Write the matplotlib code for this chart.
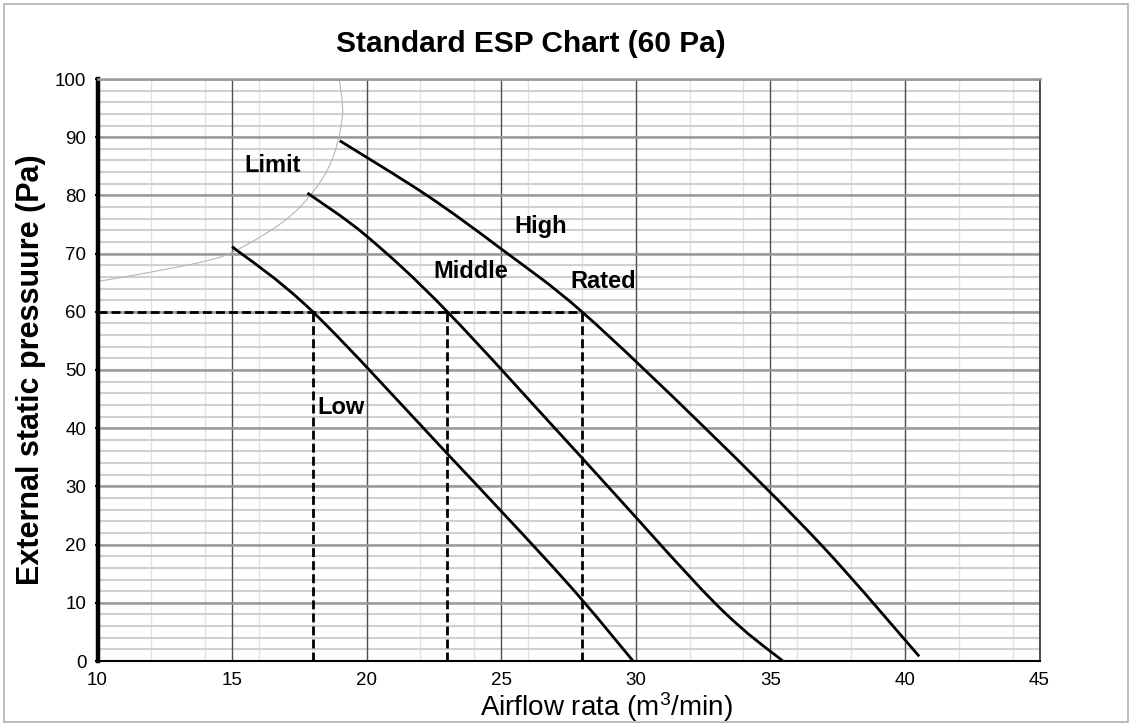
import matplotlib
matplotlib.use("Agg")
import matplotlib.pyplot as plt
from matplotlib.patches import Rectangle, PathPatch
from matplotlib.path import Path
import numpy as np

plt.rcParams['font.family'] = ['Liberation Sans', 'DejaVu Sans']
plt.rcParams['mathtext.fontset'] = 'custom'
plt.rcParams['mathtext.rm'] = 'Liberation Sans'
plt.rcParams['mathtext.default'] = 'regular'

# fan curves (airflow m3/min, pressure Pa)
low_x = [15.0, 18.0, 23.0, 27.34, 29.9]
low_y = [71.2, 60.0, 35.6, 14.0, 0.0]

mid_x = [17.8, 20.0, 23.0, 28.02, 32.93, 35.46]
mid_y = [80.4, 73.0, 60.0, 34.8, 10.0, 0.0]

high_x = [19.0, 22.24, 25.0, 28.0, 32.58, 36.88, 40.53]
high_y = [89.4, 80.0, 70.8, 60.0, 40.0, 20.0, 0.8]

limit_x = [10.0, 11.96, 13.81, 15.04, 16.88, 17.99, 18.73, 19.1, 18.98]
limit_y = [65.2, 66.8, 68.5, 70.3, 75.4, 80.5, 86.3, 93.7, 100.0]

esp = 60
rated_x = [18, 23, 28]

labels = ["Limit", "High", "Middle", "Rated", "Low"]
label_x = [15.44, 25.5, 22.49, 27.57, 18.17]
label_y = [85.2, 74.7, 66.9, 65.2, 43.5]

x_ticks = np.arange(10, 46, 5)
y_ticks = np.arange(0, 101, 10)


def smooth_path(xs, ys):
    # smoothed line through the points, drawn as cubic bezier segments (like a spreadsheet "smoothed line")
    pts = np.column_stack([xs, ys])
    n = len(pts)
    verts = [pts[0]]
    codes = [Path.MOVETO]
    for i in range(n - 1):
        p0 = pts[max(i - 1, 0)]
        p1 = pts[i]
        p2 = pts[i + 1]
        p3 = pts[min(i + 2, n - 1)]
        verts += [p1 + (p2 - p0) / 6, p2 - (p3 - p1) / 6, p2]
        codes += [Path.CURVE4] * 3
    return Path(verts, codes)


fig = plt.figure(figsize=(11.3, 7.25), dpi=100)
ax = fig.add_axes([97.5 / 1130, 64 / 725, 942 / 1130, 582 / 725])

# grid
for x in range(10, 46, 2):
    ax.axvline(x, color='#e2e2e2', lw=1.0, zorder=0)
for x in x_ticks:
    ax.axvline(x, color='#505050', lw=1.0, zorder=1)
for y in range(0, 101, 2):
    ax.axhline(y, color='#d0d0d0', lw=1.5, zorder=0)
for y in y_ticks:
    ax.axhline(y, color='#9a9a9a', lw=1.8, zorder=1)

ax.add_patch(PathPatch(smooth_path(limit_x, limit_y), fill=False, edgecolor='#b5b5b5', lw=0.8, zorder=2))
for cx, cy in [(low_x, low_y), (mid_x, mid_y), (high_x, high_y)]:
    ax.add_patch(PathPatch(smooth_path(cx, cy), fill=False, edgecolor='black', lw=2.0,
                           capstyle='butt', zorder=3))

ax.plot([10, max(rated_x)], [esp, esp], color='black', lw=2.0, dashes=(3.2, 1.5), zorder=4)
for rx in rated_x:
    ax.plot([rx, rx], [0, esp], color='black', lw=2.0, dashes=(3.2, 1.5), zorder=4)

for t, lx, ly in zip(labels, label_x, label_y):
    ax.text(lx, ly, t, fontsize=17, fontweight='bold', ha='left', va='center', zorder=5)

ax.set_xlim(10, 45)
ax.set_ylim(0, 100)
ax.set_xticks(x_ticks)
ax.set_yticks(y_ticks)
ax.tick_params(axis='x', length=0, pad=8, labelsize=13.5)
ax.tick_params(axis='y', length=2, width=1.5, pad=6, labelsize=13.5)

ax.spines['left'].set_linewidth(3.2)
ax.spines['left'].set_color('black')
ax.spines['bottom'].set_linewidth(1.5)
ax.spines['bottom'].set_color('black')
ax.spines['top'].set_color('#9a9a9a')
ax.spines['top'].set_linewidth(1.8)
ax.spines['right'].set_color('#303030')
ax.spines['right'].set_linewidth(1.2)

fig.text(531 / 1130, 1 - 44 / 725, "Standard ESP Chart (60 Pa)", fontsize=21.5,
         fontweight='bold', ha='center', va='center')
fig.text(606 / 1130, 1 - 707 / 725, "Airflow rata (m$^{3}$/min)", fontsize=20,
         ha='center', va='center')
fig.text(31 / 1130, 1 - 370 / 725, "External static pressuure (Pa)", fontsize=22,
         fontweight='bold', rotation=90, ha='center', va='center')

fig.patches.append(Rectangle((4 / 1130, 3 / 725), 1124 / 1130, 718 / 725,
                             transform=fig.transFigure, fill=False,
                             edgecolor='#b0b0b0', lw=1.2))

fig.savefig("out.png", dpi=100)
